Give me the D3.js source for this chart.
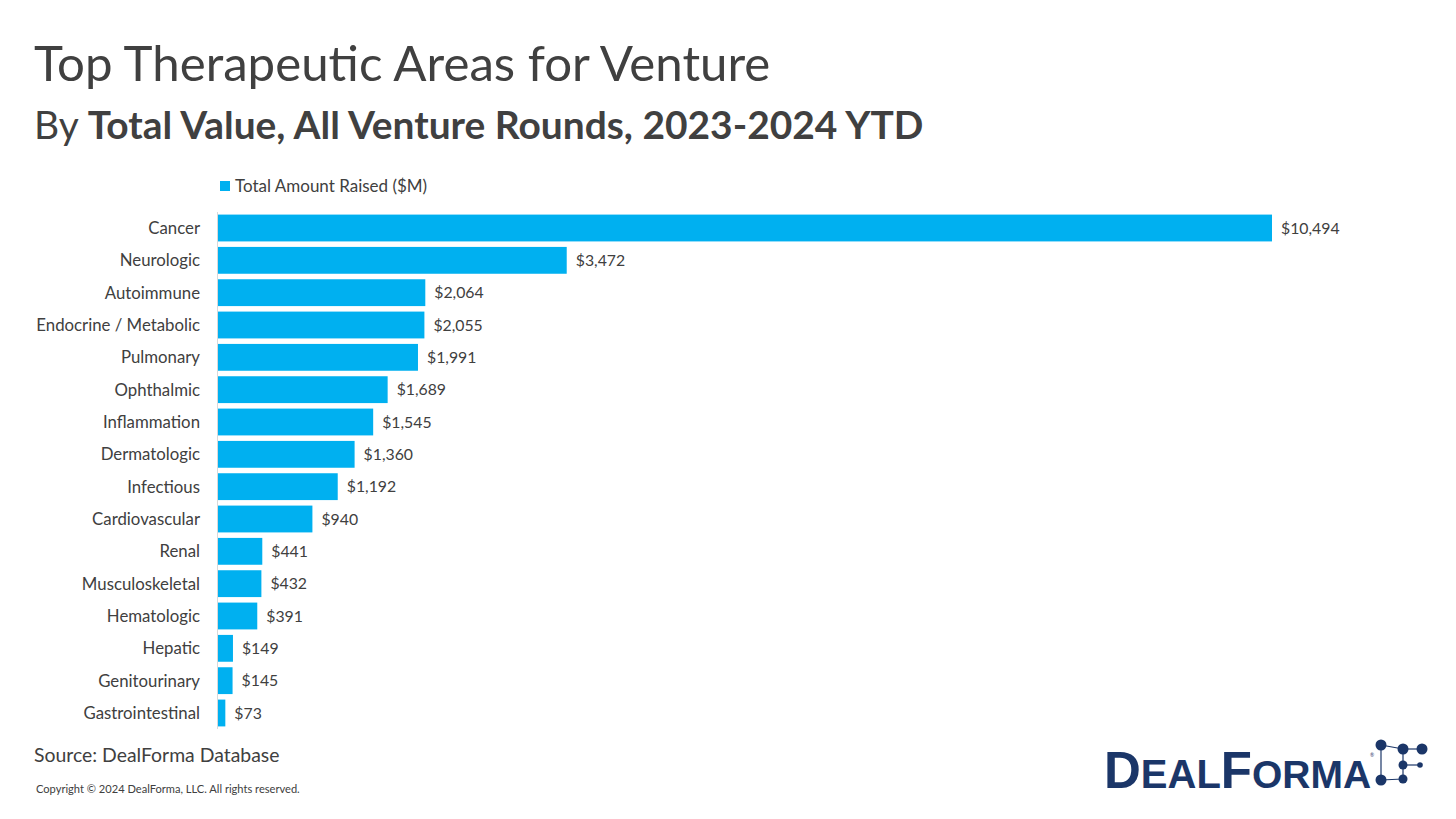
<!DOCTYPE html>
<html><head><meta charset="utf-8">
<script src="https://cdn.jsdelivr.net/npm/d3@7"></script>
<style>body{margin:0;background:#fff;} svg{display:block;font-family:Lato,"Open Sans",sans-serif;}</style>
</head><body>
<script>
const categories = ["Cancer","Neurologic","Autoimmune","Endocrine / Metabolic","Pulmonary","Ophthalmic","Inflammation","Dermatologic","Infectious","Cardiovascular","Renal","Musculoskeletal","Hematologic","Hepatic","Genitourinary","Gastrointestinal"];
const values = [10494,3472,2064,2055,1991,1689,1545,1360,1192,940,441,432,391,149,145,73];
const seriesName = "Total Amount Raised ($M)";

const W = 1456, H = 819;
const svg = d3.select("body").append("svg").attr("width", W).attr("height", H);

svg.append("text").attr("x", 34).attr("y", 81).attr("font-size", 49.2).attr("fill", "#404040")
  .text("Top Therapeutic Areas for Venture");
const sub = svg.append("text").attr("x", 34).attr("y", 139).attr("font-size", 38.9).attr("fill", "#404040");
sub.append("tspan").text("By ");
sub.append("tspan").attr("font-weight", "bold").text("Total Value, All Venture Rounds, 2023-2024 YTD");

const x0 = 218;
const x = d3.scaleLinear().domain([0, 10494]).range([x0, 1272]);
const y = d3.scaleBand().domain(categories).range([212, 729]).paddingInner(0.17).paddingOuter(0.08);

// legend
svg.append("rect").attr("x", 220).attr("y", 181).attr("width", 10).attr("height", 10).attr("fill", "#00B0F0");
svg.append("text").attr("x", 235).attr("y", 192).attr("font-size", 17).attr("fill", "#404040").text(seriesName);

svg.selectAll("rect.bar").data(values).join("rect").attr("class", "bar")
  .attr("x", x(0)).attr("y", (d, i) => y(categories[i]))
  .attr("width", d => x(d) - x(0)).attr("height", y.bandwidth()).attr("fill", "#00B0F0");

svg.append("line").attr("x1", x0 - 0.5).attr("x2", x0 - 0.5).attr("y1", 212).attr("y2", 729)
  .attr("stroke", "#d9d9d9").attr("stroke-width", 1);

svg.selectAll("text.cat").data(categories).join("text").attr("class", "cat")
  .attr("x", 200).attr("y", d => y(d) + y.bandwidth() / 2).attr("dy", "0.35em")
  .attr("text-anchor", "end").attr("font-size", 16.8).attr("fill", "#404040").text(d => d);

svg.selectAll("text.val").data(values).join("text").attr("class", "val")
  .attr("x", d => x(d) + 9).attr("y", (d, i) => y(categories[i]) + y.bandwidth() / 2).attr("dy", "0.35em")
  .attr("font-size", 15.8).attr("fill", "#404040").text(d => "$" + d3.format(",")(d));

svg.append("text").attr("x", 34).attr("y", 762).attr("font-size", 19.4).attr("fill", "#404040").text("Source: DealForma Database");
svg.append("text").attr("x", 36).attr("y", 793).attr("font-size", 11.1).attr("fill", "#404040").text("Copyright © 2024 DealForma, LLC. All rights reserved.");

// logo
const navy = "#1B3668";
const logo = svg.append("text").attr("x", 1104).attr("y", 788).attr("font-weight", 900)
  .attr("font-family", "'Liberation Sans', Arial, sans-serif").attr("fill", navy);
logo.append("tspan").attr("font-size", 51).text("D");
logo.append("tspan").attr("font-size", 40).text("EAL");
logo.append("tspan").attr("font-size", 51).text("F");
logo.append("tspan").attr("font-size", 39).text("ORMA");
svg.append("text").attr("x", 1370).attr("y", 757).attr("font-size", 5).attr("fill", navy).text("®");
const nodes = [[1381,745,5.5],[1403,749,5.5],[1422,749,5.5],[1403,765,4.5],[1420,765,2.8],[1381,780,5.5],[1403,779,4.5]];
const links = [[0,1],[1,2],[1,3],[3,4],[0,5],[5,6],[3,6]];
svg.selectAll("line.lk").data(links).join("line").attr("class","lk")
  .attr("x1", d => nodes[d[0]][0]).attr("y1", d => nodes[d[0]][1])
  .attr("x2", d => nodes[d[1]][0]).attr("y2", d => nodes[d[1]][1])
  .attr("stroke", navy).attr("stroke-width", 1.2);
svg.selectAll("circle.nd").data(nodes).join("circle").attr("class","nd")
  .attr("cx", d => d[0]).attr("cy", d => d[1]).attr("r", d => d[2]).attr("fill", navy);
</script>
</body></html>
